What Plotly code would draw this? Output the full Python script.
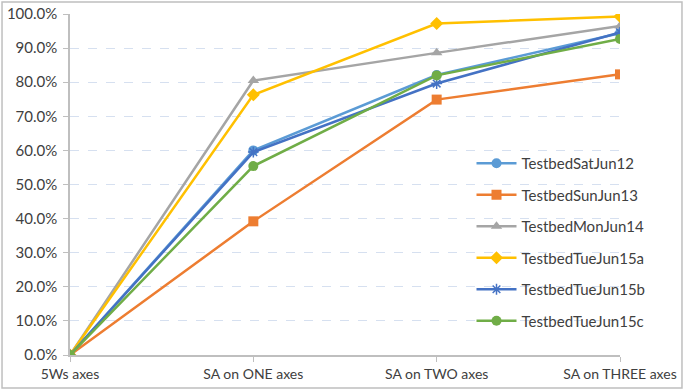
import plotly.graph_objects as go

# Category labels along the x axis
categories = ["5Ws axes", "SA on ONE axes", "SA on TWO axes", "SA on THREE axes"]

# Series values (fractions, shown as percentages)
sat_jun12 = [0.0, 0.600, 0.821, 0.944]
sun_jun13 = [0.0, 0.392, 0.749, 0.823]
mon_jun14 = [0.0, 0.805, 0.886, 0.965]
tue_jun15a = [0.0, 0.763, 0.972, 0.993]
tue_jun15b = [0.0, 0.595, 0.796, 0.946]
tue_jun15c = [0.0, 0.554, 0.820, 0.927]

y_ticks = [i / 10 for i in range(11)]

series = [
    ("TestbedSatJun12", sat_jun12, "#5B9BD5", "circle", 10),
    ("TestbedSunJun13", sun_jun13, "#ED7D31", "square", 10),
    ("TestbedMonJun14", mon_jun14, "#A5A5A5", "triangle-up", 10),
    ("TestbedTueJun15a", tue_jun15a, "#FFC000", "diamond", 10),
    ("TestbedTueJun15b", tue_jun15b, "#4472C4", "asterisk-open", 9),
    ("TestbedTueJun15c", tue_jun15c, "#70AD47", "circle", 10),
]

fig = go.Figure()
xs = list(range(len(categories)))
for i, (name, vals, color, symbol, size) in enumerate(series):
    marker = dict(symbol=symbol, size=size, color=color)
    if symbol.endswith("-open"):
        marker["line"] = dict(color=color, width=1.5)
    fig.add_trace(go.Scatter(
        x=xs, y=vals, name=name, mode="lines+markers",
        line=dict(color=color, width=2.5),
        marker=marker,
        legendgroup=f"g{i}",
    ))

font_family = "Lato, 'Open Sans', sans-serif"

fig.update_layout(
    width=684, height=390,
    margin=dict(l=70, r=64, t=14, b=35, autoexpand=False),
    paper_bgcolor="white", plot_bgcolor="white",
    font=dict(family=font_family, size=14, color="#404040"),
    showlegend=True,
    legend=dict(
        x=0.73, y=0.61, xanchor="left", yanchor="top",
        bgcolor="rgba(0,0,0,0)", font=dict(size=15, color="#404040"),
        tracegroupgap=9, itemwidth=40,
    ),
    xaxis=dict(
        range=[0, 3], tickmode="array", tickvals=xs, ticktext=categories,
        showgrid=False, zeroline=False, automargin=False,
        showline=True, linecolor="#BFBFBF", linewidth=1.5,
        ticks="outside", ticklen=5, tickcolor="#BFBFBF",
        tickfont=dict(size=14, color="#404040"),
    ),
    yaxis=dict(
        range=[0, 1], tickmode="array", tickvals=y_ticks, tickformat=".1%",
        showgrid=True, gridcolor="#D6E0F0", griddash="dash", gridwidth=1,
        zeroline=False, automargin=False,
        showline=True, linecolor="#BFBFBF", linewidth=1.5,
        ticks="outside", ticklen=5, tickcolor="#BFBFBF",
        ticklabelstandoff=3,
        tickfont=dict(size=15, color="#404040"),
    ),
    shapes=[dict(
        type="rect", xref="paper", yref="paper",
        x0=-0.1236, x1=1.1127, y0=-0.0968, y1=1.0352,
        line=dict(color="#BFBFBF", width=1.5), fillcolor="rgba(0,0,0,0)",
        layer="below",
    )],
)

fig.write_html("out.html")
